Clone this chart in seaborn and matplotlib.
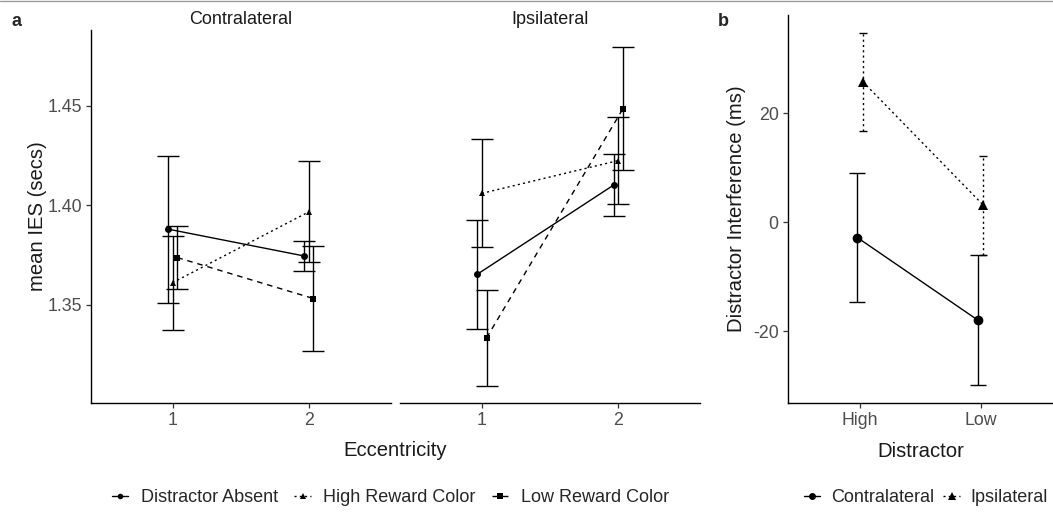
import numpy as np
import pandas as pd
import matplotlib
matplotlib.use("Agg")
import matplotlib.pyplot as plt
from matplotlib.lines import Line2D
import seaborn as sns

# ---------------- data ----------------
eccentricity = [1, 2]
conditions = ["Distractor Absent", "High Reward Color", "Low Reward Color"]

contra_absent = [1.3879, 1.3744]
contra_high = [1.3610, 1.3966]
contra_low = [1.3736, 1.3530]
contra_absent_se = [0.0370, 0.0074]
contra_high_se = [0.0236, 0.0254]
contra_low_se = [0.0157, 0.0266]

ipsi_absent = [1.3652, 1.4101]
ipsi_high = [1.4059, 1.4224]
ipsi_low = [1.3332, 1.4485]
ipsi_absent_se = [0.0275, 0.0158]
ipsi_high_se = [0.0271, 0.0218]
ipsi_low_se = [0.0242, 0.0310]

distractor = ["High", "Low"]
hemifield = ["Contralateral", "Ipsilateral"]
interf_contra = [-2.78, -17.94]
interf_ipsi = [25.8, 3.13]
interf_contra_se = [11.9, 11.96]
interf_ipsi_se = [9.0, 9.1]

# ---------------- style ----------------
sns.set_theme(style="ticks")
plt.rcParams["font.family"] = ["Liberation Sans", "DejaVu Sans"]
TICKC = "#4D4D4D"
TXT = "#1A1A1A"
TICK_FS = 12.8
TITLE_FS = 14.6
LEG_FS = 13

W, H = 1053, 513
fig = plt.figure(figsize=(W / 100, H / 100), dpi=100)


def box(l, r, t, b):
    return [l / W, 1 - b / H, (r - l) / W, (b - t) / H]


ax_c = fig.add_axes(box(91, 390.5, 30, 403))
ax_i = fig.add_axes(box(400, 700.3, 30, 403), sharey=ax_c)
ax_b = fig.add_axes(box(787.7, 1053, 15, 403))

dash_map = {"Distractor Absent": "", "High Reward Color": (1.5, 2.3),
            "Low Reward Color": (4, 3.5)}
ls_map = {"Distractor Absent": "-", "High Reward Color": (0, (1.5, 2.3)),
          "Low Reward Color": (0, (4, 3.5))}
marker_map = {"Distractor Absent": "o", "High Reward Color": "^",
              "Low Reward Color": "s"}
dodge = {"Distractor Absent": -0.034, "High Reward Color": 0.0,
         "Low Reward Color": 0.034}

panels = [
    (ax_c, "Contralateral", [contra_absent, contra_high, contra_low],
     [contra_absent_se, contra_high_se, contra_low_se]),
    (ax_i, "Ipsilateral", [ipsi_absent, ipsi_high, ipsi_low],
     [ipsi_absent_se, ipsi_high_se, ipsi_low_se]),
]

all_lo, all_hi = [], []
for ax, title, means, ses in panels:
    rows = []
    for cond, m, s in zip(conditions, means, ses):
        for e, mv, sv in zip(eccentricity, m, s):
            rows.append(dict(x=e + dodge[cond], cond=cond, mean=mv, se=sv))
            all_lo.append(mv - sv)
            all_hi.append(mv + sv)
    df = pd.DataFrame(rows)
    for cond in conditions:
        d = df[df.cond == cond]
        ax.errorbar(d.x, d["mean"], yerr=d.se, fmt="none", ecolor="black",
                    elinewidth=1.0, capsize=7.8, capthick=1.0, zorder=2)
    sns.lineplot(data=df, x="x", y="mean", style="cond", style_order=conditions,
                 dashes=dash_map, markers=marker_map, color="black",
                 linewidth=1.0, markersize=5, markeredgewidth=0, ax=ax,
                 legend=False, zorder=3)
    ax.set_xlim(0.4, 2.6)
    ax.set_xticks(eccentricity)
    ax.set_xticklabels([str(e) for e in eccentricity])
    ax.set_xlabel("")
    ax.set_ylabel("")
    ax.set_title(title, fontsize=LEG_FS, color=TXT, pad=4)

lo, hi = min(all_lo), max(all_hi)
rng = hi - lo
ax_c.set_ylim(lo - 0.05 * rng, hi + 0.05 * rng)
ax_c.set_yticks([1.35, 1.40, 1.45])
ax_c.set_yticklabels(["1.35", "1.40", "1.45"])
ax_c.set_ylabel("mean IES (secs)", fontsize=TITLE_FS, color=TXT, labelpad=0.5)

for ax in (ax_c, ax_i, ax_b):
    for sp in ("top", "right"):
        ax.spines[sp].set_visible(False)
    for sp in ("left", "bottom"):
        ax.spines[sp].set_linewidth(1.0)
        ax.spines[sp].set_color("black")
    ax.tick_params(axis="both", length=3.5, width=0.9, color="#333333",
                   labelsize=TICK_FS, labelcolor=TICKC, pad=3)
    ax.grid(False)

ax_i.spines["left"].set_visible(False)
ax_i.tick_params(axis="y", left=False, labelleft=False)

fig.text((91 + 700) / 2 / W, 1 - 450 / H, "Eccentricity", ha="center",
         va="center", fontsize=TITLE_FS, color=TXT)

# ---------------- panel b ----------------
b_dodge = {"Contralateral": -0.023, "Ipsilateral": 0.023}
b_marker = {"Contralateral": "o", "Ipsilateral": "^"}
b_dash = {"Contralateral": "", "Ipsilateral": (1.5, 2.3)}
rows = []
for hemi, m, s in zip(hemifield, [interf_contra, interf_ipsi],
                      [interf_contra_se, interf_ipsi_se]):
    for i, (mv, sv) in enumerate(zip(m, s)):
        rows.append(dict(x=i + b_dodge[hemi], hemi=hemi, mean=mv, se=sv))
dfb = pd.DataFrame(rows)
for hemi, cap in [("Contralateral", 5.8), ("Ipsilateral", 3.2)]:
    d = dfb[dfb.hemi == hemi]
    eb = ax_b.errorbar(d.x, d["mean"], yerr=d.se, fmt="none", ecolor="black",
                       elinewidth=1.0, capsize=cap, capthick=1.0, zorder=2)
    if hemi == "Ipsilateral":
        for lc in eb[2]:
            lc.set_linestyle((0, (1.5, 2.3)))
sns.lineplot(data=dfb, x="x", y="mean", style="hemi", style_order=hemifield,
             dashes=b_dash, markers=b_marker, color="black", linewidth=1.0,
             markersize=7, markeredgewidth=0, ax=ax_b, legend=False, zorder=3)
ax_b.set_xlim(-0.6, 1.6)
ax_b.set_xticks([0, 1])
ax_b.set_xticklabels(distractor)
lo_b = min(dfb["mean"] - dfb.se)
hi_b = max(dfb["mean"] + dfb.se)
rb = hi_b - lo_b
ax_b.set_ylim(lo_b - 0.05 * rb, hi_b + 0.05 * rb)
ax_b.set_yticks([-20, 0, 20])
ax_b.set_yticklabels(["-20", "0", "20"])
ax_b.set_xlabel("Distractor", fontsize=TITLE_FS, color=TXT, labelpad=9)
ax_b.set_ylabel("Distractor Interference (ms)", fontsize=TITLE_FS, color=TXT,
                labelpad=5)

# ---------------- panel letters ----------------
fig.text(12 / W, 1 - 22 / H, "a", fontsize=13, fontweight="bold", va="center")
fig.text(718 / W, 1 - 22 / H, "b", fontsize=13, fontweight="bold", va="center")

# ---------------- legends ----------------
handles_a = [Line2D([], [], color="black", lw=1.0, linestyle=ls_map[c],
                    marker=marker_map[c], markersize=4, markeredgewidth=0)
             for c in conditions]
fig.legend(handles_a, conditions, loc="center left", ncol=3, frameon=False,
           bbox_to_anchor=(105 / W, 1 - 498 / H), fontsize=LEG_FS,
           handlelength=0.9, handletextpad=0.7, columnspacing=0.9,
           borderaxespad=0)

handles_b = [Line2D([], [], color="black", lw=1.0, linestyle="-", marker="o",
                    markersize=5, markeredgewidth=0),
             Line2D([], [], color="black", lw=1.0, linestyle=(0, (1.5, 2.3)),
                    marker="^", markersize=5.5, markeredgewidth=0)]
fig.legend(handles_b, hemifield, loc="center left", ncol=2, frameon=False,
           bbox_to_anchor=(797 / W, 1 - 498 / H), fontsize=LEG_FS,
           handlelength=0.9, handletextpad=0.6, columnspacing=0.5,
           borderaxespad=0)

# thin grey border line at top
fig.add_artist(Line2D([0, 1], [1 - 0.5 / H, 1 - 0.5 / H], color="#9A9A9A",
                      lw=1.0, transform=fig.transFigure))

fig.savefig("out.png", dpi=100)
